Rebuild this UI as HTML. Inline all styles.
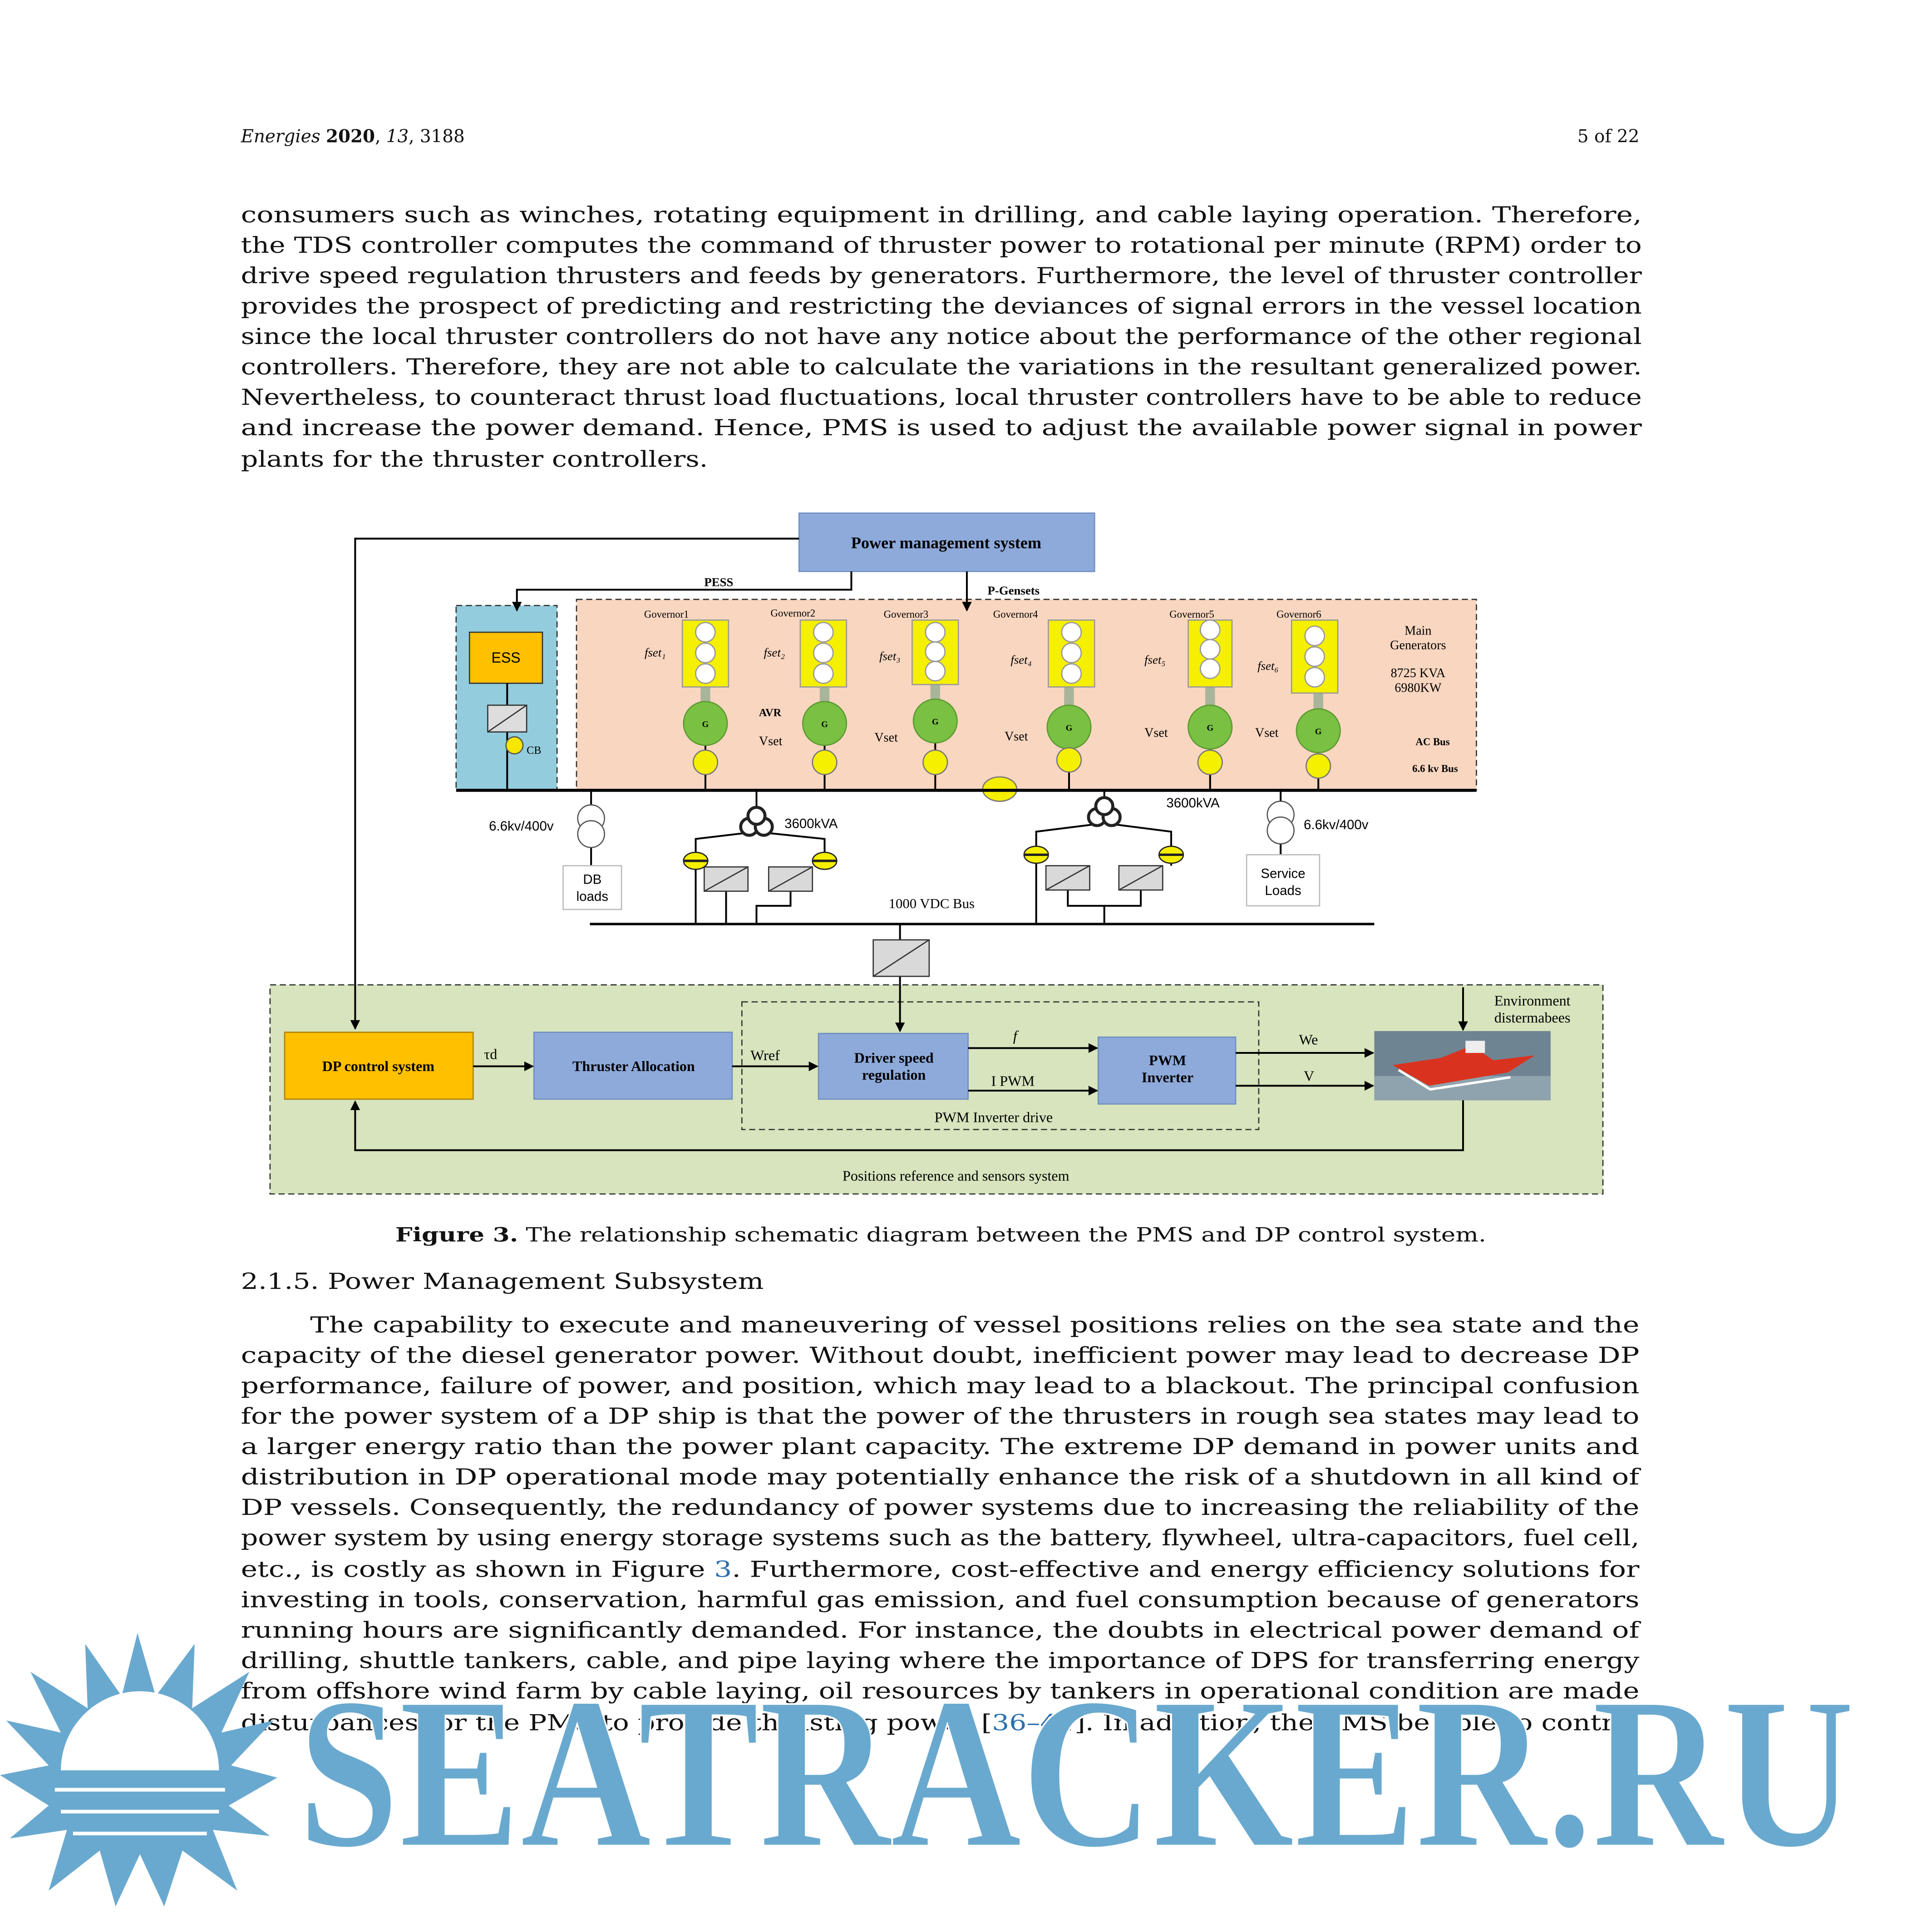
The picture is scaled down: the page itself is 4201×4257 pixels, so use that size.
<!DOCTYPE html>
<html><head><meta charset="utf-8"><style>
html,body{margin:0;padding:0;background:#fff;}
svg{display:block;}
.b{font-family:"DejaVu Serif","Liberation Serif",serif;font-size:18px;fill:#111;}
.s{font-family:"Liberation Serif",serif;fill:#000;}
.d{font-family:"DejaVu Serif","Liberation Serif",serif;fill:#111;}
.a{font-family:"Liberation Sans",sans-serif;fill:#000;}
</style></head><body>
<svg width="4201" height="4257" viewBox="0 0 1568 1589" xmlns="http://www.w3.org/2000/svg">
<defs>
<marker id="ar" markerWidth="8" markerHeight="8" refX="7" refY="4" orient="auto" markerUnits="userSpaceOnUse"><path d="M0,0 L8,4 L0,8 z" fill="#000"/></marker>
</defs>
<rect width="1568" height="1589" fill="#fff"/>
<text x="198" y="117" class="d" font-size="14.5" font-style="italic">Energies <tspan font-style="normal" font-weight="bold">2020</tspan><tspan font-style="normal">, </tspan>13<tspan font-style="normal">, 3188</tspan></text>
<text x="1348" y="117" class="d" font-size="14.5" text-anchor="end">5 of 22</text>
<g class="b">
<text x="198" y="183" textLength="1152" lengthAdjust="spacingAndGlyphs">consumers such as winches, rotating equipment in drilling, and cable laying operation. Therefore,</text>
<text x="198" y="208" textLength="1152" lengthAdjust="spacingAndGlyphs">the TDS controller computes the command of thruster power to rotational per minute (RPM) order to</text>
<text x="198" y="233" textLength="1152" lengthAdjust="spacingAndGlyphs">drive speed regulation thrusters and feeds by generators. Furthermore, the level of thruster controller</text>
<text x="198" y="258" textLength="1152" lengthAdjust="spacingAndGlyphs">provides the prospect of predicting and restricting the deviances of signal errors in the vessel location</text>
<text x="198" y="283" textLength="1152" lengthAdjust="spacingAndGlyphs">since the local thruster controllers do not have any notice about the performance of the other regional</text>
<text x="198" y="308" textLength="1152" lengthAdjust="spacingAndGlyphs">controllers. Therefore, they are not able to calculate the variations in the resultant generalized power.</text>
<text x="198" y="333" textLength="1152" lengthAdjust="spacingAndGlyphs">Nevertheless, to counteract thrust load fluctuations, local thruster controllers have to be able to reduce</text>
<text x="198" y="358" textLength="1152" lengthAdjust="spacingAndGlyphs">and increase the power demand. Hence, PMS is used to adjust the available power signal in power</text>
<text x="198" y="384" textLength="384" lengthAdjust="spacingAndGlyphs">plants for the thruster controllers.</text>
</g>

<rect x="474" y="493" width="740" height="157" fill="#f9d6c0" stroke="#333" stroke-dasharray="5,3"/>
<rect x="375" y="498" width="83" height="152" fill="#93cddd" stroke="#333" stroke-dasharray="5,3"/>
<rect x="222" y="810" width="1096" height="172" fill="#d7e4bd" stroke="#333" stroke-dasharray="5,3"/>
<rect x="610" y="824" width="425" height="105" fill="none" stroke="#333" stroke-dasharray="5,3"/>

<rect x="657" y="422" width="243" height="48" fill="#8eaadb" stroke="#6f8fc0"/>
<text x="778" y="451" class="s" font-size="13.5" font-weight="bold" text-anchor="middle">Power management system</text>
<polyline points="657,443 292,443 292,846" fill="none" stroke="#000" stroke-width="1.5" marker-end="url(#ar)"/>
<polyline points="700,470 700,485 425,485 425,502" fill="none" stroke="#000" stroke-width="1.5" marker-end="url(#ar)"/>
<line x1="795" y1="470" x2="795" y2="502" stroke="#000" stroke-width="1.5" marker-end="url(#ar)"/>
<text x="591" y="482" class="s" font-size="10" font-weight="bold" text-anchor="middle">PESS</text>
<text x="812" y="489" class="s" font-size="10" font-weight="bold">P-Gensets</text>

<rect x="386" y="520" width="60" height="42" fill="#ffc000" stroke="#333"/>
<text x="416" y="545" class="a" font-size="12" text-anchor="middle">ESS</text>
<line x1="417" y1="562" x2="417" y2="650" stroke="#000" stroke-width="1.5"/>
<rect x="401" y="580" width="32" height="22" fill="#ddd" stroke="#333"/>
<line x1="401" y1="602" x2="433" y2="580" stroke="#333"/>
<circle cx="423" cy="613" r="7" fill="#f7e600" stroke="#555"/>
<text x="433" y="620" class="s" font-size="9">CB</text>

<g class="s" font-size="8.5">
<text x="548" y="508" text-anchor="middle">Governor1</text>
<text x="652" y="507" text-anchor="middle">Governor2</text>
<text x="745" y="508" text-anchor="middle">Governor3</text>
<text x="835" y="508" text-anchor="middle">Governor4</text>
<text x="980" y="508" text-anchor="middle">Governor5</text>
<text x="1068" y="508" text-anchor="middle">Governor6</text>
</g>
<g class="s" font-size="10" font-style="italic">
<text x="530" y="540">fset₁</text>
<text x="628" y="540">fset₂</text>
<text x="723" y="543">fset₃</text>
<text x="831" y="546">fset₄</text>
<text x="941" y="546">fset₅</text>
<text x="1034" y="551">fset₆</text>
</g>
<g stroke="#000" stroke-width="1.5">
<line x1="580" y1="595" x2="580" y2="650"/><line x1="678" y1="595" x2="678" y2="650"/>
<line x1="769" y1="593" x2="769" y2="650"/><line x1="879" y1="598" x2="879" y2="650"/>
<line x1="995" y1="598" x2="995" y2="650"/><line x1="1084" y1="601" x2="1084" y2="650"/>
</g>
<g fill="#a9b59a">
<rect x="576" y="565" width="8" height="14"/><rect x="674" y="565" width="8" height="14"/>
<rect x="765" y="563" width="8" height="14"/><rect x="875" y="565" width="8" height="17"/>
<rect x="991" y="565" width="8" height="17"/><rect x="1080" y="570" width="8" height="14"/>
</g>
<g fill="#f5ef00" stroke="#999">
<rect x="561" y="510" width="38" height="55"/><rect x="658" y="510" width="38" height="55"/>
<rect x="750" y="510" width="38" height="53"/><rect x="862" y="510" width="38" height="55"/>
<rect x="977" y="510" width="36" height="55"/><rect x="1062" y="510" width="38" height="60"/>
</g>
<g fill="#fff" stroke="#999">
<circle cx="580" cy="520" r="8"/><circle cx="580" cy="537" r="8"/><circle cx="580" cy="554" r="8"/>
<circle cx="677" cy="520" r="8"/><circle cx="677" cy="537" r="8"/><circle cx="677" cy="554" r="8"/>
<circle cx="769" cy="520" r="8"/><circle cx="769" cy="536" r="8"/><circle cx="769" cy="552" r="8"/>
<circle cx="881" cy="520" r="8"/><circle cx="881" cy="537" r="8"/><circle cx="881" cy="554" r="8"/>
<circle cx="995" cy="518" r="8"/><circle cx="995" cy="534" r="8"/><circle cx="995" cy="550" r="8"/>
<circle cx="1081" cy="523" r="8"/><circle cx="1081" cy="540" r="8"/><circle cx="1081" cy="557" r="8"/>
</g>
<g fill="#79c043" stroke="#5a9a30">
<circle cx="580" cy="595" r="18"/><circle cx="678" cy="595" r="18"/><circle cx="769" cy="593" r="18"/>
<circle cx="879" cy="598" r="18"/><circle cx="995" cy="598" r="18"/><circle cx="1084" cy="601" r="18"/>
</g>
<g class="s" font-size="7" font-weight="bold" text-anchor="middle">
<text x="580" y="598">G</text><text x="678" y="598">G</text><text x="769" y="596">G</text>
<text x="879" y="601">G</text><text x="995" y="601">G</text><text x="1084" y="604">G</text>
</g>
<g fill="#f5ef00" stroke="#777">
<circle cx="580" cy="627" r="10"/><circle cx="678" cy="627" r="10"/><circle cx="769" cy="627" r="10"/>
<circle cx="879" cy="625" r="10"/><circle cx="995" cy="627" r="10"/><circle cx="1084" cy="630" r="10"/>
<ellipse cx="822" cy="649" rx="14" ry="10"/>
</g>
<g class="s" font-size="10.5">
<text x="624" y="589" font-size="9" font-weight="bold">AVR</text>
<text x="624" y="613">Vset</text><text x="719" y="610">Vset</text><text x="826" y="609">Vset</text>
<text x="941" y="606">Vset</text><text x="1032" y="606">Vset</text>
<text x="1166" y="522" text-anchor="middle">Main</text>
<text x="1166" y="534" text-anchor="middle">Generators</text>
<text x="1166" y="557" text-anchor="middle">8725 KVA</text>
<text x="1166" y="569" text-anchor="middle">6980KW</text>
<text x="1178" y="613" text-anchor="middle" font-size="8.5" font-weight="bold">AC Bus</text>
<text x="1180" y="635" text-anchor="middle" font-size="8.5" font-weight="bold">6.6 kv Bus</text>
</g>
<line x1="375" y1="650" x2="1214" y2="650" stroke="#000" stroke-width="2.5"/>

<g stroke="#000" stroke-width="1.5" fill="none">
<line x1="486" y1="650" x2="486" y2="712"/>
<line x1="622" y1="650" x2="622" y2="668"/>
<line x1="908" y1="650" x2="908" y2="662"/>
<line x1="1053" y1="650" x2="1053" y2="703"/>
<polyline points="614,685 572,690 572,760"/><polyline points="630,685 678,690 678,712"/>
<polyline points="900,678 852,684 852,760"/><polyline points="916,678 963,684 963,712"/>
<polyline points="597,733 597,760"/><polyline points="650,733 650,745 622,745 622,760"/>
<polyline points="878,732 878,745 908,745 908,760"/><polyline points="938,732 938,745 908,745"/>
<line x1="485" y1="760" x2="1130" y2="760" stroke-width="2"/>
<line x1="740" y1="760" x2="740" y2="773"/>
<line x1="740" y1="803" x2="740" y2="848" marker-end="url(#ar)"/>
</g>
<g fill="#fff" stroke="#555">
<circle cx="486" cy="673" r="11"/><circle cx="486" cy="686" r="11"/>
<circle cx="1053" cy="670" r="11"/><circle cx="1053" cy="683" r="11"/>
</g>
<g fill="#fff" stroke="#222" stroke-width="2.5">
<circle cx="616" cy="680" r="7"/><circle cx="628" cy="680" r="7"/><circle cx="622" cy="671" r="7"/>
<circle cx="902" cy="672" r="7"/><circle cx="914" cy="672" r="7"/><circle cx="908" cy="663" r="7"/>
</g>
<g fill="#d9d9d9" stroke="#333">
<rect x="579" y="713" width="36" height="20"/><rect x="632" y="713" width="36" height="20"/>
<rect x="860" y="712" width="36" height="20"/><rect x="920" y="712" width="36" height="20"/>
<rect x="718" y="773" width="46" height="30"/>
</g>
<g stroke="#333">
<line x1="579" y1="733" x2="615" y2="713"/><line x1="632" y1="733" x2="668" y2="713"/>
<line x1="860" y1="732" x2="896" y2="712"/><line x1="920" y1="732" x2="956" y2="712"/>
<line x1="718" y1="803" x2="764" y2="773"/>
</g>
<g fill="#f5ef00" stroke="#222">
<ellipse cx="572" cy="708" rx="10" ry="7"/><ellipse cx="678" cy="708" rx="10" ry="7"/>
<ellipse cx="852" cy="703" rx="10" ry="7"/><ellipse cx="963" cy="703" rx="10" ry="7"/>
</g>
<g stroke="#222" stroke-width="2"><line x1="562" y1="708" x2="582" y2="708"/><line x1="668" y1="708" x2="688" y2="708"/><line x1="842" y1="703" x2="862" y2="703"/><line x1="953" y1="703" x2="973" y2="703"/></g>
<rect x="463" y="712" width="48" height="36" fill="#fff" stroke="#bbb"/>
<rect x="1025" y="703" width="60" height="42" fill="#fff" stroke="#bbb"/>
<g class="a" font-size="11">
<text x="487" y="727" text-anchor="middle">DB</text><text x="487" y="741" text-anchor="middle">loads</text>
<text x="1055" y="722" text-anchor="middle">Service</text><text x="1055" y="736" text-anchor="middle">Loads</text>
<text x="402" y="683">6.6kv/400v</text><text x="1072" y="682">6.6kv/400v</text>
<text x="645" y="681">3600kVA</text><text x="959" y="664">3600kVA</text>
</g>
<text x="766" y="747" class="s" font-size="11.5" text-anchor="middle">1000 VDC Bus</text>

<rect x="234" y="849" width="155" height="55" fill="#ffc000" stroke="#b08000"/>
<text x="311" y="881" class="s" font-size="12" font-weight="bold" text-anchor="middle">DP control system</text>
<rect x="439" y="849" width="163" height="55" fill="#8eaadb" stroke="#6f8fc0"/>
<text x="521" y="881" class="s" font-size="12" font-weight="bold" text-anchor="middle">Thruster Allocation</text>
<rect x="673" y="850" width="123" height="54" fill="#8eaadb" stroke="#6f8fc0"/>
<text x="735" y="874" class="s" font-size="12" font-weight="bold" text-anchor="middle">Driver speed</text>
<text x="735" y="888" class="s" font-size="12" font-weight="bold" text-anchor="middle">regulation</text>
<rect x="903" y="853" width="113" height="55" fill="#8eaadb" stroke="#6f8fc0"/>
<text x="960" y="876" class="s" font-size="12" font-weight="bold" text-anchor="middle">PWM</text>
<text x="960" y="890" class="s" font-size="12" font-weight="bold" text-anchor="middle">Inverter</text>
<g stroke="#000" stroke-width="1.5" fill="none" marker-end="url(#ar)">
<line x1="389" y1="877" x2="438" y2="877"/>
<line x1="602" y1="877" x2="672" y2="877"/>
<line x1="796" y1="862" x2="902" y2="862"/>
<line x1="796" y1="897" x2="902" y2="897"/>
<line x1="1016" y1="866" x2="1129" y2="866"/>
<line x1="1016" y1="893" x2="1129" y2="893"/>
<line x1="1203" y1="812" x2="1203" y2="847"/>
<polyline points="1203,905 1203,946 292,946 292,906"/>
</g>
<g class="s" font-size="12">
<text x="398" y="871">τd</text><text x="617" y="872">Wref</text>
<text x="833" y="856" font-style="italic">f</text><text x="815" y="893">I PWM</text>
<text x="1068" y="859">We</text><text x="1072" y="889">V</text>
<text x="1260" y="827" text-anchor="middle">Environment</text>
<text x="1260" y="841" text-anchor="middle">distermabees</text>
<text x="817" y="923" text-anchor="middle">PWM Inverter drive</text>
<text x="786" y="971" text-anchor="middle">Positions reference and sensors system</text>
</g>
<rect x="1130" y="848" width="145" height="57" fill="#6f8493"/>
<rect x="1130" y="885" width="145" height="20" fill="#8fa3ae"/>
<path d="M1145,876 L1175,893 L1240,882 L1262,868 L1228,872 L1210,860 L1185,870 Z" fill="#d9331f"/>
<rect x="1205" y="856" width="16" height="10" fill="#eee"/>
<path d="M1150,880 L1176,896 L1242,886" stroke="#fff" stroke-width="2" fill="none"/>

<text x="325" y="1021" class="d" font-size="16" textLength="897" lengthAdjust="spacingAndGlyphs"><tspan font-weight="bold">Figure 3.</tspan> The relationship schematic diagram between the PMS and DP control system.</text>
<text x="198" y="1060" class="d" font-size="18" textLength="430" lengthAdjust="spacingAndGlyphs">2.1.5. Power Management Subsystem</text>

<g class="b">
<text x="255" y="1096" textLength="1093" lengthAdjust="spacingAndGlyphs">The capability to execute and maneuvering of vessel positions relies on the sea state and the</text>
<text x="198" y="1121" textLength="1150" lengthAdjust="spacingAndGlyphs">capacity of the diesel generator power. Without doubt, inefficient power may lead to decrease DP</text>
<text x="198" y="1146" textLength="1150" lengthAdjust="spacingAndGlyphs">performance, failure of power, and position, which may lead to a blackout. The principal confusion</text>
<text x="198" y="1171" textLength="1150" lengthAdjust="spacingAndGlyphs">for the power system of a DP ship is that the power of the thrusters in rough sea states may lead to</text>
<text x="198" y="1196" textLength="1150" lengthAdjust="spacingAndGlyphs">a larger energy ratio than the power plant capacity. The extreme DP demand in power units and</text>
<text x="198" y="1221" textLength="1150" lengthAdjust="spacingAndGlyphs">distribution in DP operational mode may potentially enhance the risk of a shutdown in all kind of</text>
<text x="198" y="1246" textLength="1150" lengthAdjust="spacingAndGlyphs">DP vessels. Consequently, the redundancy of power systems due to increasing the reliability of the</text>
<text x="198" y="1271" textLength="1150" lengthAdjust="spacingAndGlyphs">power system by using energy storage systems such as the battery, flywheel, ultra-capacitors, fuel cell,</text>
<text x="198" y="1297" textLength="1150" lengthAdjust="spacingAndGlyphs">etc., is costly as shown in Figure <tspan fill="#2a6fb0">3</tspan>. Furthermore, cost-effective and energy efficiency solutions for</text>
<text x="198" y="1322" textLength="1150" lengthAdjust="spacingAndGlyphs">investing in tools, conservation, harmful gas emission, and fuel consumption because of generators</text>
<text x="198" y="1347" textLength="1150" lengthAdjust="spacingAndGlyphs">running hours are significantly demanded. For instance, the doubts in electrical power demand of</text>
<text x="198" y="1372" textLength="1150" lengthAdjust="spacingAndGlyphs">drilling, shuttle tankers, cable, and pipe laying where the importance of DPS for transferring energy</text>
<text x="198" y="1397" textLength="1150" lengthAdjust="spacingAndGlyphs">from offshore wind farm by cable laying, oil resources by tankers in operational condition are made</text>
<text x="198" y="1423" textLength="1150" lengthAdjust="spacingAndGlyphs">disturbances for the PMS to provide thrusting power [<tspan fill="#2a6fb0">36–41</tspan>]. In addition, the PMS be able to control</text>
</g>

<g fill="#6aa9cf">
<polygon points="113,1343 128,1395 160,1352 158,1405 205,1375 182,1425 225,1415 190,1452 228,1462 188,1485 222,1510 175,1505 195,1555 150,1522 135,1568 115,1525 95,1568 82,1522 40,1555 55,1505 8,1512 40,1485 0,1460 40,1452 5,1415 50,1425 25,1375 72,1405 70,1352 100,1395"/>
</g>
<path d="M50,1456 A65,65 0 0 1 180,1456 Z" fill="#fff"/>
<g stroke="#fff" stroke-width="3"><line x1="45" y1="1472" x2="185" y2="1472"/><line x1="50" y1="1490" x2="180" y2="1490"/><line x1="60" y1="1508" x2="170" y2="1508"/></g>
<text x="245" y="1518" font-family="Liberation Serif,serif" font-weight="bold" font-size="178" fill="#6aa9cf" stroke="#fff" stroke-width="1.5" textLength="1280" lengthAdjust="spacingAndGlyphs">SEATRACKER.RU</text>
</svg>
</body></html>
